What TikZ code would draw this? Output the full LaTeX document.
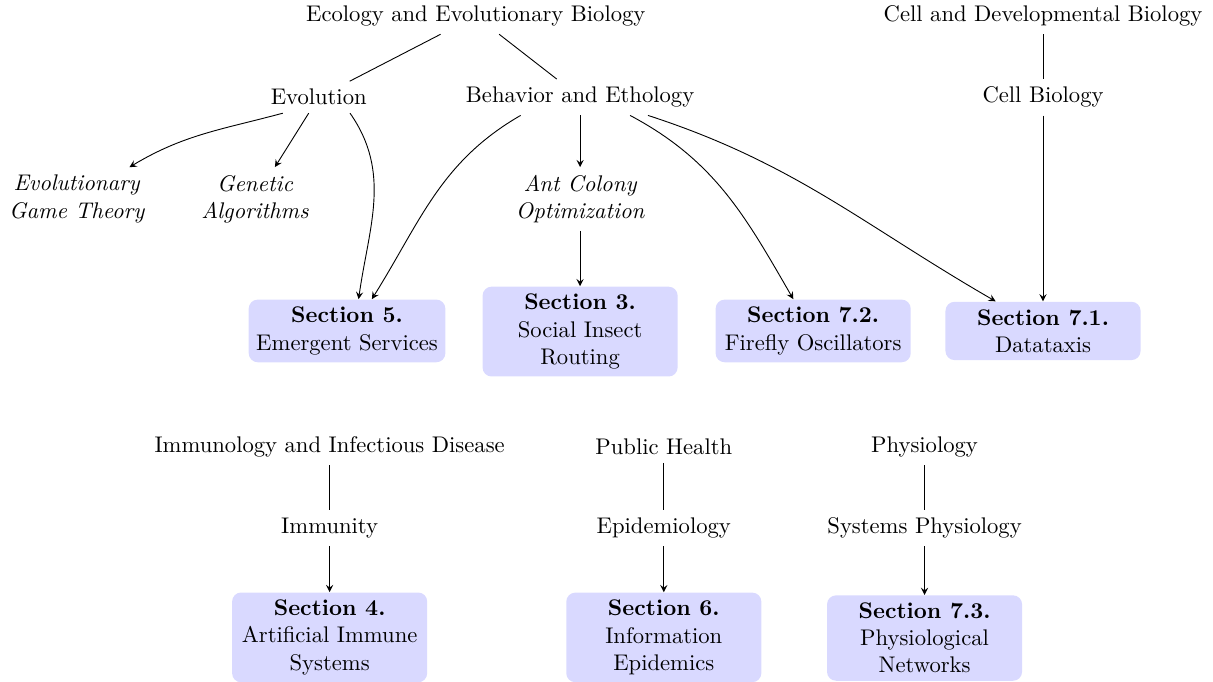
\documentclass[tikz,border=0pt]{standalone}
\usetikzlibrary{positioning}

\begin{document}
\begin{tikzpicture}[>=stealth,
  field/.style={rectangle},
  method/.style={rectangle, font=\itshape, align=center},
  section/.style={rectangle, rounded corners, fill=blue!15, minimum width=3.03cm, align=center}]

\useasboundingbox (0,0) rectangle (18.84,-10.59);

% Nodes
\node (ecology) [field] at (7.39,-0.25) {Ecology and Evolutionary Biology};
\node (celldev) [field] at (16.2,-0.25) {Cell and Developmental Biology};
\node (evolution) [field] at (4.95,-1.51) {Evolution};
\node (behavior) [field] at (9.01,-1.51) {Behavior and Ethology};
\node (cellbio) [field] at (16.2,-1.51) {Cell Biology};
\node (egt) [method] at (1.19,-3.09) {Evolutionary\\Game Theory};
\node (ga) [method] at (3.96,-3.09) {Genetic\\Algorithms};
\node (aco) [method] at (9.01,-3.09) {Ant Colony\\Optimization};
\node (sec5) [section] at (5.39,-5.14) {\textbf{Section 5.}\\Emergent Services};
\node (sec3) [section] at (9.01,-5.15) {\textbf{Section 3.}\\Social Insect\\Routing};
\node (sec72) [section] at (12.63,-5.14) {\textbf{Section 7.2.}\\Firefly Oscillators};
\node (sec71) [section] at (16.2,-5.14) {\textbf{Section 7.1.}\\Datataxis};

\node (immuno) [field] at (5.12,-6.94) {Immunology and Infectious Disease};
\node (pubhealth) [field] at (10.31,-6.94) {Public Health};
\node (physio) [field] at (14.36,-6.94) {Physiology};
\node (immunity) [field] at (5.12,-8.20) {Immunity};
\node (epidem) [field] at (10.31,-8.20) {Epidemiology};
\node (sysphys) [field] at (14.36,-8.20) {Systems Physiology};
\node (sec4) [section] at (5.12,-9.90) {\textbf{Section 4.}\\Artificial Immune\\Systems};
\node (sec6) [section] at (10.31,-9.90) {\textbf{Section 6.}\\Information\\Epidemics};
\node (sec73) [section] at (14.36,-9.91) {\textbf{Section 7.3.}\\Physiological\\Networks};

% Lines
\draw (ecology) -- (evolution);
\draw (ecology) -- (behavior);
\draw (celldev) -- (cellbio);
\draw (immuno) -- (immunity);
\draw (pubhealth) -- (epidem);
\draw (physio) -- (sysphys);

% Arrows
\draw[->] (evolution.204) to[out=195, in=31] (egt.31);
\draw[->] (evolution) -- (ga);
\draw[->] (evolution.-27) to[out=-55, in=82] (sec5.70);
\draw[->] (behavior.197) to[out=210, in=58] (sec5.52);
\draw[->] (behavior) -- (aco);
\draw[->] (aco) -- (sec3);
\draw[->] (behavior.-20) to[out=-28, in=120] (sec72.122);
\draw[->] (behavior.-15) to[out=-18, in=150] (sec71.148);
\draw[->] (cellbio) -- (sec71);
\draw[->] (immunity) -- (sec4);
\draw[->] (epidem) -- (sec6);
\draw[->] (sysphys) -- (sec73);

\end{tikzpicture}
\end{document}
